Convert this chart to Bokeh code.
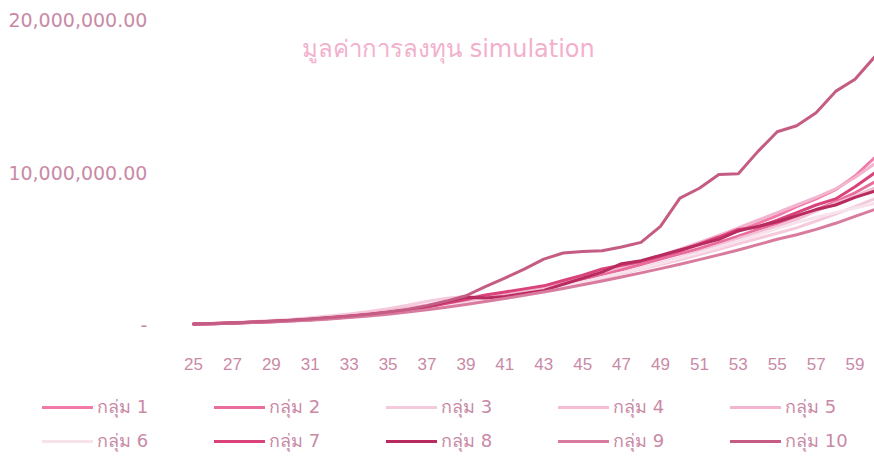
from bokeh.plotting import figure
from bokeh.models import Legend, LegendItem, FixedTicker, Label, Range1d
from bokeh.embed import file_html
from bokeh.resources import INLINE

# ---------------- data ----------------
ages = list(range(25, 61))
x_ticks = list(range(25, 60, 2))
y_ticks = [0, 10_000_000, 20_000_000]
y_tick_labels = ["-", "10,000,000.00", "20,000,000.00"]
title_text = "มูลค่าการลงทุน simulation"
group_names = ["กลุ่ม 1", "กลุ่ม 2", "กลุ่ม 3", "กลุ่ม 4", "กลุ่ม 5",
               "กลุ่ม 6", "กลุ่ม 7", "กลุ่ม 8", "กลุ่ม 9", "กลุ่ม 10"]
MILLION = 1_000_000

# values in millions (ages 25..60)
g1 = [0.09, 0.12, 0.15, 0.19, 0.24, 0.30, 0.37, 0.45, 0.55, 0.66, 0.79, 0.94, 1.10, 1.30, 1.50, 1.72, 1.95, 2.20,
      2.45, 2.75, 3.05, 3.40, 3.75, 4.10, 4.50, 4.90, 5.30, 5.75, 6.20, 6.70, 7.20, 7.80, 8.30, 8.90, 9.80, 11.0]
g2 = [0.10, 0.12, 0.16, 0.20, 0.25, 0.31, 0.38, 0.46, 0.56, 0.67, 0.80, 0.95, 1.12, 1.32, 1.52, 1.75, 1.98, 2.22,
      2.48, 2.75, 3.05, 3.35, 3.65, 4.00, 4.35, 4.70, 5.05, 5.45, 5.85, 6.30, 6.70, 7.15, 7.60, 8.10, 8.70, 9.40]
g3 = [0.10, 0.14, 0.19, 0.25, 0.32, 0.40, 0.50, 0.62, 0.76, 0.92, 1.10, 1.32, 1.58, 1.78, 1.90, 1.95, 2.05, 2.20,
      2.40, 2.60, 2.85, 3.10, 3.40, 3.70, 4.00, 4.30, 4.65, 5.00, 5.35, 5.70, 6.05, 6.40, 6.85, 7.30, 7.80, 8.30]
g4 = [0.10, 0.13, 0.17, 0.22, 0.28, 0.35, 0.44, 0.54, 0.66, 0.80, 0.96, 1.14, 1.35, 1.55, 1.70, 1.85, 2.00, 2.15,
      2.35, 2.55, 2.80, 3.10, 3.40, 3.75, 4.10, 4.45, 4.85, 5.25, 5.70, 6.10, 6.50, 6.95, 7.50, 8.00, 8.50, 9.00]
g5 = [0.10, 0.13, 0.16, 0.21, 0.26, 0.33, 0.41, 0.50, 0.60, 0.72, 0.86, 1.02, 1.20, 1.40, 1.60, 1.82, 2.05, 2.30,
      2.55, 2.85, 3.15, 3.50, 3.85, 4.20, 4.60, 5.00, 5.45, 5.90, 6.40, 6.90, 7.40, 7.90, 8.40, 8.95, 9.70, 10.6]
g6 = [0.10, 0.12, 0.15, 0.19, 0.24, 0.30, 0.37, 0.45, 0.54, 0.65, 0.78, 0.92, 1.08, 1.26, 1.45, 1.65, 1.86, 2.08,
      2.32, 2.57, 2.84, 3.12, 3.42, 3.74, 4.07, 4.42, 4.78, 5.15, 5.54, 5.95, 6.35, 6.75, 7.10, 7.40, 7.70, 8.00]
g7 = [0.10, 0.12, 0.16, 0.21, 0.26, 0.32, 0.40, 0.49, 0.59, 0.70, 0.84, 1.00, 1.20, 1.45, 1.70, 2.00, 2.20, 2.40,
      2.60, 2.95, 3.30, 3.70, 3.95, 4.20, 4.55, 4.90, 5.35, 5.80, 6.30, 6.45, 6.90, 7.40, 7.90, 8.30, 9.10, 10.0]
g8 = [0.10, 0.13, 0.17, 0.21, 0.27, 0.33, 0.41, 0.50, 0.60, 0.72, 0.86, 1.02, 1.25, 1.55, 1.85, 1.80, 1.90, 2.10,
      2.30, 2.70, 3.10, 3.50, 4.05, 4.25, 4.60, 4.95, 5.30, 5.65, 6.20, 6.50, 6.80, 7.20, 7.60, 7.90, 8.40, 8.80]
g9 = [0.10, 0.12, 0.15, 0.19, 0.23, 0.29, 0.35, 0.43, 0.52, 0.62, 0.74, 0.88, 1.03, 1.20, 1.38, 1.57, 1.77, 1.98,
      2.20, 2.43, 2.67, 2.92, 3.18, 3.45, 3.73, 4.02, 4.32, 4.63, 4.95, 5.30, 5.65, 5.95, 6.30, 6.70, 7.15, 7.60]
g10 = [0.10, 0.13, 0.17, 0.22, 0.28, 0.35, 0.43, 0.52, 0.62, 0.74, 0.88, 1.05, 1.30, 1.60, 1.95, 2.55, 3.10, 3.70,
       4.35, 4.75, 4.85, 4.90, 5.15, 5.45, 6.50, 8.35, 9.00, 9.90, 9.95, 11.4, 12.7, 13.1, 13.95, 15.35, 16.15, 17.6]
series = [g1, g2, g3, g4, g5, g6, g7, g8, g9, g10]

# ---------------- style ----------------
colors = ["#f27aa8", "#e96d9c", "#f6cadd", "#f4bdd4", "#f3b4cf",
          "#f8e3ec", "#d9437a", "#b82b5e", "#d97b9e", "#c45c83"]
label_color = "#c98aa6"
title_color = "#f3b0cd"

# the frame covers the whole canvas; axes are pinned inside it with fixed_location
p = figure(
    width=874, height=461, min_border=0,
    x_range=Range1d(15.08, 60.0), y_range=Range1d(-8.92 * MILLION, 21.31 * MILLION),
    output_backend="svg", toolbar_location=None,
    background_fill_color="white", border_fill_color="white",
)
p.outline_line_color = None
p.grid.grid_line_color = None

renderers = []
for vals, col in zip(series, colors):
    r = p.line(ages, [v * MILLION for v in vals], line_color=col, line_width=3,
               line_join="round", line_cap="round")
    renderers.append(r)

# axes
p.xaxis.fixed_location = -0.66 * MILLION
p.xaxis.ticker = FixedTicker(ticks=x_ticks)
p.xaxis.axis_line_color = None
p.xaxis.major_tick_line_color = None
p.xaxis.minor_tick_line_color = None
p.xaxis.major_tick_out = 0
p.xaxis.major_label_standoff = 22
p.xaxis.major_label_text_font = "Liberation Sans"
p.xaxis.major_label_text_font_size = "17px"
p.xaxis.major_label_text_color = label_color

p.yaxis.fixed_location = 23.71
p.yaxis.ticker = FixedTicker(ticks=y_ticks)
p.yaxis.major_label_overrides = {t: l for t, l in zip(y_ticks, y_tick_labels)}
p.yaxis.axis_line_color = None
p.yaxis.major_tick_line_color = None
p.yaxis.minor_tick_line_color = None
p.yaxis.major_tick_out = 0
p.yaxis.major_label_standoff = 21
p.yaxis.major_label_text_font = "DejaVu Sans"
p.yaxis.major_label_text_font_size = "19px"
p.yaxis.major_label_text_color = label_color

# title inside the plot area
p.add_layout(Label(x=38.1, y=18.16 * MILLION, text=title_text, text_align="center",
                   text_baseline="middle", text_color=title_color,
                   text_font="DejaVu Sans", text_font_size="24px"))

# legend: 2 rows x 5 columns (items are filled column by column)
order = [0, 5, 1, 6, 2, 7, 3, 8, 4, 9]
legend = Legend(
    items=[LegendItem(label=group_names[i], renderers=[renderers[i]]) for i in order],
    ncols=5, location=(42, 6),
    glyph_width=51, glyph_height=20, label_standoff=4, label_width=112,
    label_height=20, spacing=5, padding=0, margin=0,
    border_line_color=None, background_fill_alpha=0,
    label_text_font="DejaVu Sans", label_text_font_size="18px", label_text_color=label_color,
)
p.add_layout(legend, "center")

open("out.html", "w").write(file_html(p, INLINE))
